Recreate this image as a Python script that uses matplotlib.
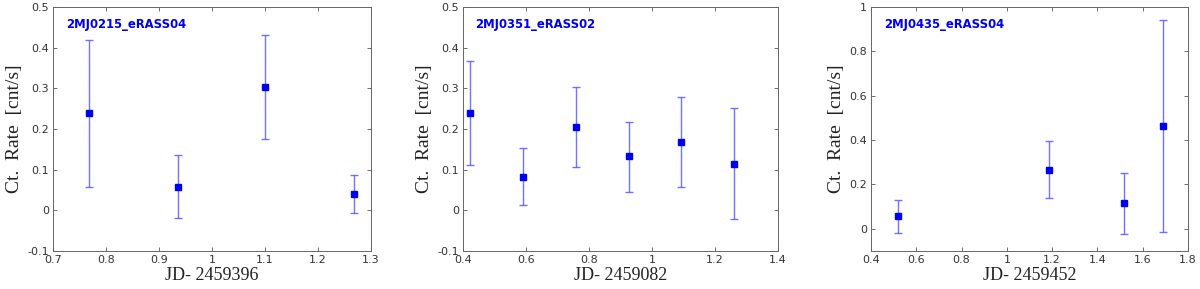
import matplotlib

matplotlib.use("Agg")
import matplotlib.pyplot as plt  # noqa: E402

# Light curves per source: time offset, rate, lower/upper error-bar ends
names = ["2MJ0215_eRASS04", "2MJ0351_eRASS02", "2MJ0435_eRASS04"]
jd_ref = ["2459396", "2459082", "2459452"]

t1 = [0.767, 0.935, 1.100, 1.268]
r1 = [0.240, 0.058, 0.303, 0.039]
lo1 = [0.058, -0.020, 0.175, -0.007]
hi1 = [0.420, 0.135, 0.430, 0.086]

t2 = [0.423, 0.591, 0.759, 0.926, 1.093, 1.260]
r2 = [0.240, 0.083, 0.205, 0.133, 0.167, 0.115]
lo2 = [0.112, 0.012, 0.106, 0.046, 0.057, -0.022]
hi2 = [0.366, 0.154, 0.304, 0.218, 0.278, 0.252]

t3 = [0.519, 1.186, 1.518, 1.688]
r3 = [0.056, 0.266, 0.116, 0.462]
lo3 = [-0.017, 0.138, -0.024, -0.014]
hi3 = [0.128, 0.395, 0.253, 0.940]

xlims = [(0.7, 1.3), (0.4, 1.4), (0.4, 1.8)]
ylims = [(-0.1, 0.5), (-0.1, 0.5), (-0.1, 1.0)]
xticks = [
    [0.7, 0.8, 0.9, 1.0, 1.1, 1.2, 1.3],
    [0.4, 0.6, 0.8, 1.0, 1.2, 1.4],
    [0.4, 0.6, 0.8, 1.0, 1.2, 1.4, 1.6, 1.8],
]
yticks = [
    [-0.1, 0, 0.1, 0.2, 0.3, 0.4, 0.5],
    [-0.1, 0, 0.1, 0.2, 0.3, 0.4, 0.5],
    [0, 0.2, 0.4, 0.6, 0.8, 1.0],
]
series = [(t1, r1, lo1, hi1), (t2, r2, lo2, hi2), (t3, r3, lo3, hi3)]

# axes boxes in pixels: left, right (figure is 1200 x 289)
boxes = [(53, 371), (463, 778), (871, 1188)]
TOP, BOTTOM = 7, 251
W, H = 1200, 289

fig = plt.figure(figsize=(12, 2.89), dpi=100)


def fmt(v):
    s = f"{v:.1f}".rstrip("0").rstrip(".")
    return "0" if s in ("-0", "") else s


for i in range(3):
    l, r = boxes[i]
    ax = fig.add_axes([l / W, 1 - BOTTOM / H, (r - l) / W, (BOTTOM - TOP) / H])
    t, rate, lo, hi = series[i]
    yerr = [[v - a for v, a in zip(rate, lo)], [b - v for v, b in zip(rate, hi)]]
    ax.errorbar(t, rate, yerr=yerr, fmt="none", ecolor="#5a5aff", elinewidth=1.0,
                capsize=3, capthick=1.0, alpha=0.85, zorder=2)
    ax.plot(t, rate, "s", color="#0000f0", markersize=4, zorder=3)
    ax.set_xlim(*xlims[i])
    ax.set_ylim(*ylims[i])
    ax.set_xticks(xticks[i])
    ax.set_yticks(yticks[i])
    ax.set_xticklabels([fmt(v) for v in xticks[i]])
    ax.set_yticklabels([fmt(v) for v in yticks[i]])
    ax.tick_params(direction="in", top=True, right=True, length=3, width=0.6,
                   colors="#555555", labelcolor="#333333", labelsize=8, pad=3)
    for sp in ax.spines.values():
        sp.set_color("#666666")
        sp.set_linewidth(0.7)
    ax.set_xlabel(f"JD- {jd_ref[i]}", family="Liberation Serif", fontsize=13,
                  color="#222222", labelpad=1)
    ax.set_ylabel("Ct.  Rate  [cnt/s]", family="Liberation Serif", fontsize=14,
                  color="#222222", labelpad=3)
    ax.text(0.04, 0.93, names[i], transform=ax.transAxes, color="#0000ee",
            fontsize=8.4, fontweight="bold", va="center", ha="left")

fig.savefig("out.png", dpi=100)
